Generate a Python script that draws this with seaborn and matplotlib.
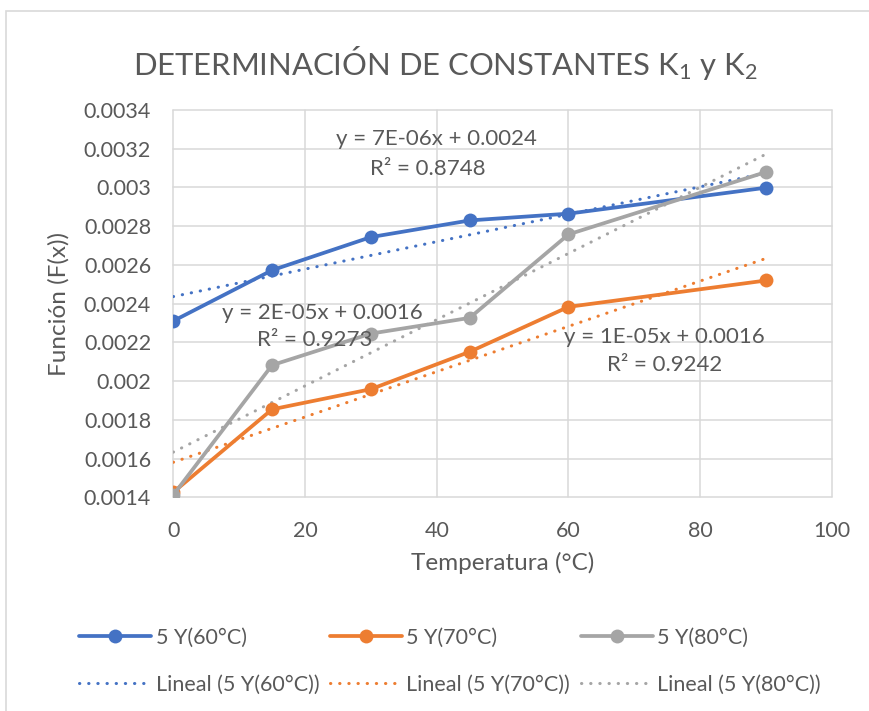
import numpy as np
import pandas as pd
import matplotlib
matplotlib.use("Agg")
import matplotlib.pyplot as plt
import seaborn as sns
from matplotlib.lines import Line2D

# Data
temperatura = [0, 15, 30, 45, 60, 90]
serie_60 = [0.002311, 0.002573, 0.002744, 0.002830, 0.002865, 0.002999]
serie_70 = [0.001427, 0.001855, 0.001959, 0.002152, 0.002384, 0.002520]
serie_80 = [0.001413, 0.002083, 0.002246, 0.002327, 0.002758, 0.003080]
nombres = ["5 Y(60°C)", "5 Y(70°C)", "5 Y(80°C)"]
colores = ["#4472C4", "#ED7D31", "#A5A5A5"]
ecuaciones = ["y = 7E-06x + 0.0024", "y = 1E-05x + 0.0016", "y = 2E-05x + 0.0016"]
r2 = ["R² = 0.8748", "R² = 0.9242", "R² = 0.9273"]
x_ticks = [0, 20, 40, 60, 80, 100]
y_ticks = [0.0014, 0.0016, 0.0018, 0.002, 0.0022, 0.0024, 0.0026,
           0.0028, 0.003, 0.0032, 0.0034]
y_tick_labels = ["0.0014", "0.0016", "0.0018", "0.002", "0.0022", "0.0024",
                 "0.0026", "0.0028", "0.003", "0.0032", "0.0034"]

df = pd.DataFrame({
    "Temperatura": temperatura * 3,
    "F": serie_60 + serie_70 + serie_80,
    "Serie": sum([[n] * len(temperatura) for n in nombres], []),
})

sns.set_theme(style="white")
plt.rcParams["font.family"] = ["Lato", "DejaVu Sans"]
plt.rcParams["mathtext.default"] = "regular"
texto = "#595959"
punteado = (0, (0.1, 2.9))

fig = plt.figure(figsize=(8.69, 7.11), dpi=100)
ax = fig.add_axes([0.1994, 0.3003, 0.7580, 0.5450])

# Linear trendlines (dotted)
for nombre, color in zip(nombres, colores):
    sub = df[df["Serie"] == nombre]
    sns.regplot(data=sub, x="Temperatura", y="F", ax=ax, scatter=False,
                ci=None, truncate=True, color=color,
                line_kws=dict(lw=2.2, ls=punteado,
                              dash_capstyle="round", zorder=2))

# Data series with markers
for nombre, color in zip(nombres, colores):
    sub = df[df["Serie"] == nombre]
    sns.lineplot(data=sub, x="Temperatura", y="F", ax=ax, color=color,
                 marker="o", markersize=10, markeredgewidth=0, lw=2.7,
                 zorder=3, legend=False)

ax.set_xlim(0, 100)
ax.set_ylim(0.0014, 0.0034)
ax.set_xticks(x_ticks)
ax.set_yticks(y_ticks)
ax.set_yticklabels(y_tick_labels)
ax.tick_params(axis="both", length=0, labelsize=15.5, labelcolor=texto)
ax.tick_params(axis="y", pad=16)
ax.tick_params(axis="x", pad=17)
ax.grid(True, color="#D9D9D9", lw=1.1)
ax.set_axisbelow(True)
for s in ax.spines.values():
    s.set_visible(False)
for gl in ax.get_xgridlines() + ax.get_ygridlines():
    gl.set_clip_on(False)

ax.set_xlabel("Temperatura (°C)", fontsize=17.5, color=texto, labelpad=8)
ax.set_ylabel("Función (F(x))", fontsize=17.5, color=texto, labelpad=10)

# Trendline equations
pos_eq = [(40.0, 0.003248), (74.6, 0.002227), (22.6, 0.002351)]
pos_r2 = [(38.7, 0.003098), (74.6, 0.002083), (21.5, 0.002212)]
for eq, r, pe, pr in zip(ecuaciones, r2, pos_eq, pos_r2):
    ax.text(pe[0], pe[1], eq, fontsize=16, color=texto, ha="center",
            va="center", zorder=5)
    ax.text(pr[0], pr[1], r, fontsize=16, color=texto, ha="center",
            va="center", zorder=5)

fig.text(0.512, 0.911, "DETERMINACIÓN DE CONSTANTES K$_1$ y K$_2$",
         fontsize=22.3, color=texto, ha="center", va="center")

# Legend (column-major order: series above its trendline)
handles, labels = [], []
for nombre, color in zip(nombres, colores):
    handles.append(Line2D([], [], color=color, lw=2.7, marker="o",
                          markersize=10, markeredgewidth=0))
    labels.append(nombre)
    handles.append(Line2D([], [], color=color, lw=2.2, ls=punteado,
                          dash_capstyle="round"))
    labels.append(f"Lineal ({nombre})")
fig.legend(handles, labels, ncol=3, loc="center", bbox_to_anchor=(0.518, 0.0703),
           frameon=False, fontsize=15.5, labelcolor=texto, handlelength=3.35,
           handletextpad=0.2, columnspacing=0.5, labelspacing=1.25)

# Chart border
fig.patches.append(plt.Rectangle((0.007, -0.01), 1.1, 0.995, transform=fig.transFigure,
                                 fill=False, edgecolor="#D9D9D9", lw=1.2))

fig.savefig("out.png", dpi=100)
